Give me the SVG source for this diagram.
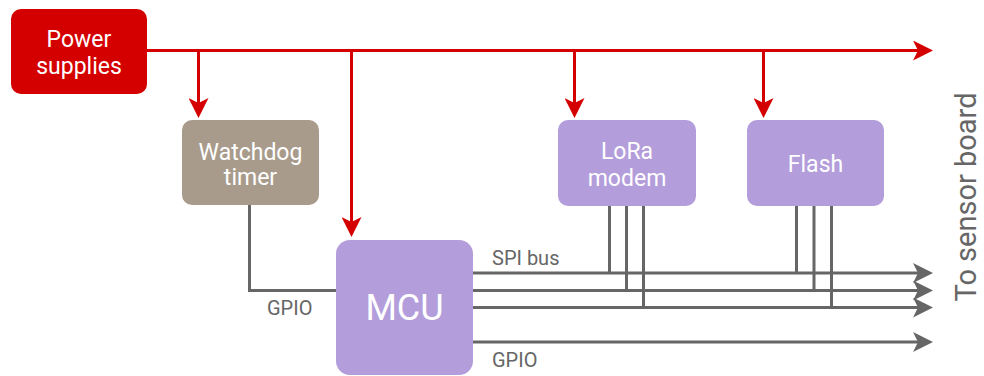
<svg xmlns="http://www.w3.org/2000/svg" width="984" height="376" viewBox="0 0 984 376">
  <style>
    text { font-family: Roboto, "Liberation Sans", sans-serif; }
    .nt { fill: #ffffff; font-size: 23px; text-anchor: middle; }
    .lbl { fill: #666666; font-size: 20px; }
    .red { stroke: #d40000; stroke-width: 3; fill: none; }
    .gray { stroke: #666666; stroke-width: 3; fill: none; }
    .purple { fill: #b39ddb; }
  </style>
  <defs>
    <marker id="ar" viewBox="0 0 20 20" refX="15" refY="10" markerWidth="20" markerHeight="20" markerUnits="userSpaceOnUse" orient="auto">
      <path d="M0,0 L20,10 L0,20 L5,10 Z" fill="#d40000"/>
    </marker>
    <marker id="ag" viewBox="0 0 20 20" refX="15" refY="10" markerWidth="20" markerHeight="20" markerUnits="userSpaceOnUse" orient="auto">
      <path d="M0,0 L20,10 L0,20 L5,10 Z" fill="#666666"/>
    </marker>
  </defs>

  <g id="connectors">
    <path class="red" d="M147,50.5 H928" marker-end="url(#ar)"/>
    <path class="red" d="M198.5,50.5 V113" marker-end="url(#ar)"/>
    <path class="red" d="M351.5,50.5 V232" marker-end="url(#ar)"/>
    <path class="red" d="M574.5,50.5 V113" marker-end="url(#ar)"/>
    <path class="red" d="M763.5,50.5 V113" marker-end="url(#ar)"/>

    <path class="gray" d="M249.5,205 V290.5 H336"/>

    <path class="gray" d="M473,273 H928" marker-end="url(#ag)"/>
    <path class="gray" d="M473,290.5 H928" marker-end="url(#ag)"/>
    <path class="gray" d="M473,307.5 H928" marker-end="url(#ag)"/>
    <path class="gray" d="M473,342 H928" marker-end="url(#ag)"/>

    <path class="gray" d="M609.5,206 V273"/>
    <path class="gray" d="M626.5,206 V290.5"/>
    <path class="gray" d="M643.5,206 V307.5"/>
    <path class="gray" d="M796.5,206 V273"/>
    <path class="gray" d="M814,206 V290.5"/>
    <path class="gray" d="M831.5,206 V307.5"/>

    <text class="lbl" x="492" y="265">SPI bus</text>
    <text class="lbl" x="492" y="367">GPIO</text>
    <text class="lbl" x="267" y="315">GPIO</text>
  </g>

  <g id="power">
    <rect x="11" y="9" width="136" height="85" rx="10" fill="#d40000"/>
    <text class="nt" x="79" y="47">Power</text>
    <text class="nt" x="79" y="74">supplies</text>
  </g>

  <g id="watchdog">
    <rect x="182" y="120" width="137" height="85" rx="10" fill="#a89b8c"/>
    <text class="nt" x="250.5" y="160">Watchdog</text>
    <text class="nt" x="250.5" y="185">timer</text>
  </g>

  <g id="lora">
    <rect class="purple" x="558" y="120" width="138" height="86" rx="10"/>
    <text class="nt" x="627" y="159">LoRa</text>
    <text class="nt" x="627" y="186">modem</text>
  </g>

  <g id="flash">
    <rect class="purple" x="747" y="120" width="137" height="86" rx="10"/>
    <text class="nt" x="815.5" y="172">Flash</text>
  </g>

  <g id="mcu">
    <rect class="purple" x="336" y="240" width="137" height="135" rx="14"/>
    <text class="nt" x="404.5" y="320" style="font-size:36px">MCU</text>
  </g>

  <g id="sensor-label">
    <text transform="translate(976,197) rotate(-90)" text-anchor="middle" fill="#666666" style="font-size:29px">To sensor board</text>
  </g>
</svg>
